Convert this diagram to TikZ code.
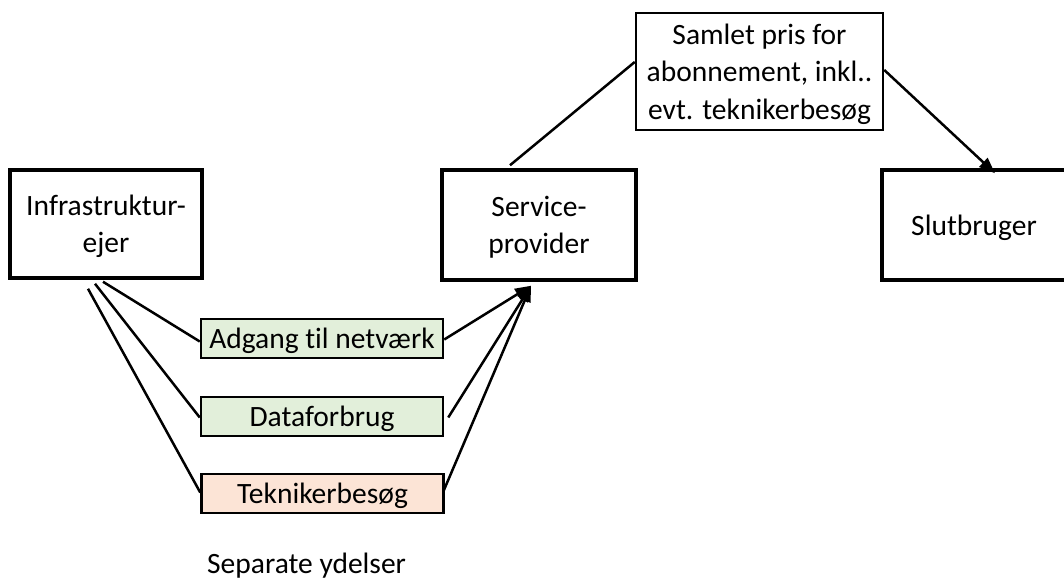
\documentclass[tikz,border=0pt]{standalone}
\usepackage{fontspec}
\setmainfont{Carlito}[Ligatures=NoCommon]
\usetikzlibrary{arrows.meta}

\begin{document}
\begin{tikzpicture}[x=1pt,y=-1pt,>={Triangle[length=16pt,width=12pt]},
	every node/.style={font=\fontsize{29.5}{37.5}\selectfont, align=center, inner sep=0pt, text depth=0pt},
	rolle/.style={draw, line width=3.5pt, minimum height=110pt},
	ydelse/.style={draw, line width=2.5pt, minimum width=242pt, minimum height=39pt},
	forbind/.style={line width=2.5pt}]
	\definecolor{lysgroen}{RGB}{226,239,218}
	\definecolor{lysroed}{RGB}{252,228,214}
	\useasboundingbox (0,0) rectangle (1064,585);

	\node[rolle, minimum width=192pt, minimum height=108pt] (infra) at (106,224) {Infrastruktur-\\ejer};
	\node[rolle, minimum width=194pt] (serv) at (539,225) {Service-\\provider};
	\node[rolle, minimum width=184pt] (slut) at (974,225) {Slutbruger};
	\node[draw, line width=2.5pt, minimum width=247pt, minimum height=117pt] (pris) at (759.5,71.5)
		{Samlet pris for\\abonnement, inkl..\\evt. teknikerbesøg};

	\node[ydelse, fill=lysgroen] (adgang) at (322,338.5) {Adgang til netværk};
	\node[ydelse, fill=lysgroen] (data) at (322,416.5) {Dataforbrug};
	\node[ydelse, fill=lysroed] (tekniker) at (322.5,493.5) {Teknikerbesøg};

	\node[anchor=base west] (separat) at (207,573) {Separate ydelser};

	\draw[forbind] ([xshift=-3pt,yshift=-2pt]infra.south) -- ([yshift=-3pt]adgang.west);
	\draw[forbind] ([xshift=-11pt,yshift=-4pt]infra.south) -- ([yshift=-1pt]data.west);
	\draw[forbind] ([xshift=-18pt,yshift=-9pt]infra.south) -- ([yshift=1pt]tekniker.west);

	\draw[forbind,->] ([yshift=-1pt]adgang.east) -- ([xshift=-8pt,yshift=-4pt]serv.south);
	\draw[forbind,->] ([xshift=4pt,yshift=-1pt]data.east) -- ([xshift=-8pt,yshift=-4pt]serv.south);
	\draw[forbind,->] ([xshift=-1pt,yshift=3pt]tekniker.east) -- ([xshift=-8pt,yshift=-4pt]serv.south);

	\draw[forbind] ([xshift=-29pt,yshift=3pt]serv.north) -- ([yshift=9.5pt]pris.west);
	\draw[forbind,->] ([yshift=1.5pt]pris.east) -- ([xshift=21pt,yshift=-5pt]slut.north);
\end{tikzpicture}
\end{document}
